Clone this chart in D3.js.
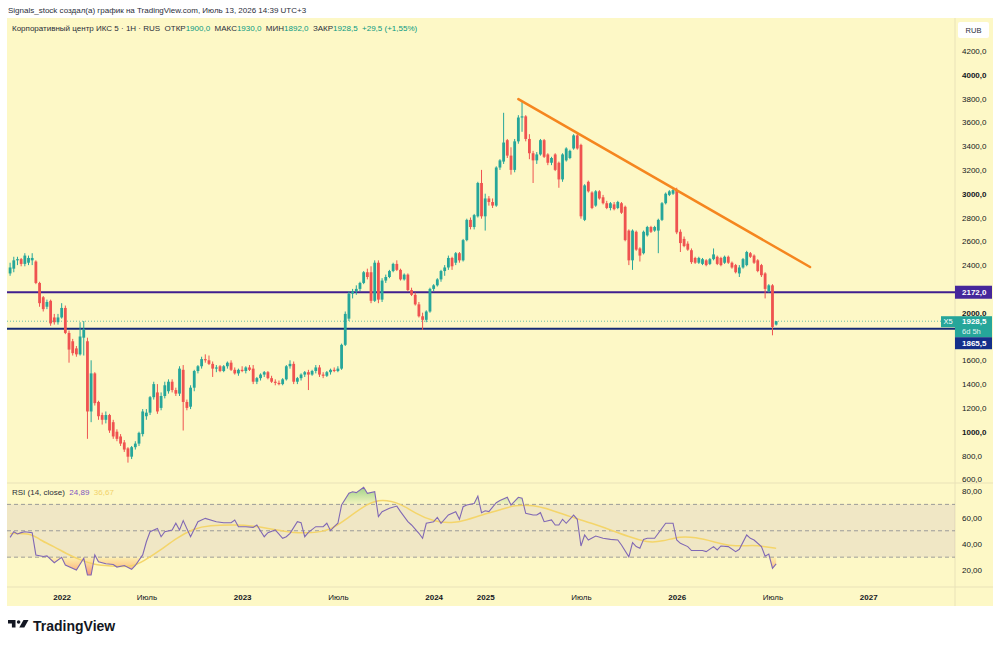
<!DOCTYPE html>
<html>
<head>
<meta charset="utf-8">
<script src="https://cdn.jsdelivr.net/npm/d3@7/dist/d3.min.js"></script>
<style>
body{margin:0;background:#fff;}
svg{display:block;font-family:"Liberation Sans",Arial,sans-serif;}
</style>
</head>
<body>
<svg id="chart" width="1000" height="646"></svg>
<script>
// weekly candles: [open, high, low, close]
var ohlc = [
[2330,2420,2310,2380],[2370,2470,2340,2440],[2440,2470,2400,2450],[2450,2460,2390,2410],[2410,2500,2390,2480],
[2420,2480,2400,2460],[2440,2500,2400,2460],[2430,2440,2240,2250],[2250,2260,2050,2080],[2130,2140,2010,2030],
[2050,2110,2030,2090],[2100,2110,1890,1910],[1960,1990,1900,1920],[1920,1990,1900,1960],[1960,2080,1950,2040],
[2040,2060,1820,1830],[1830,1850,1580,1690],[1760,1780,1640,1660],[1700,1720,1630,1650],[1650,1920,1640,1800],
[1790,1930,1640,1860],[1760,1790,940,1170],[1170,1600,1080,1490],[1490,1500,1220,1240],[1250,1260,1100,1130],
[1140,1160,1060,1100],[1100,1170,1070,1140],[1140,1150,990,1010],[1080,1100,940,960],[1000,1020,920,940],
[960,980,880,900],[910,930,830,850],[860,870,740,790],[790,880,770,870],[870,920,850,900],
[900,1000,880,990],[980,1190,960,1170],[1130,1190,1100,1160],[1160,1300,1140,1290],[1290,1420,1270,1400],
[1330,1400,1150,1170],[1200,1330,1180,1300],[1300,1420,1280,1390],[1340,1440,1320,1420],[1420,1440,1330,1350],
[1350,1370,1300,1320],[1320,1550,1300,1530],[1520,1560,1010,1250],[1250,1270,1180,1200],[1210,1390,1190,1370],
[1370,1520,1340,1510],[1510,1560,1490,1550],[1550,1630,1530,1610],[1610,1650,1580,1600],[1600,1640,1560,1570],
[1570,1590,1460,1530],[1530,1560,1500,1540],[1550,1560,1500,1510],[1510,1560,1500,1550],[1550,1590,1530,1580],
[1580,1600,1510,1520],[1520,1540,1480,1490],[1490,1530,1470,1520],[1520,1550,1500,1510],[1510,1550,1490,1540],
[1540,1560,1510,1520],[1530,1560,1400,1420],[1420,1460,1400,1450],[1450,1490,1430,1480],[1480,1510,1460,1500],
[1500,1510,1440,1450],[1450,1470,1410,1420],[1420,1440,1390,1410],[1410,1430,1390,1400],[1400,1450,1390,1440],
[1440,1560,1430,1550],[1550,1600,1530,1570],[1570,1590,1400,1420],[1420,1460,1400,1450],[1450,1490,1430,1480],
[1480,1510,1460,1500],[1500,1520,1350,1480],[1480,1520,1470,1510],[1510,1560,1490,1540],[1540,1560,1460,1480],
[1480,1500,1450,1470],[1470,1510,1460,1500],[1500,1530,1480,1520],[1520,1540,1500,1510],[1510,1550,1500,1530],
[1530,1740,1520,1730],[1730,2010,1720,1990],[1950,2180,1930,2160],[2160,2200,2120,2180],[2180,2230,2150,2200],
[2200,2260,2180,2250],[2250,2350,2240,2340],[2340,2370,2280,2300],[2340,2390,2080,2100],[2100,2440,2090,2420],
[2420,2440,2080,2110],[2110,2290,2090,2270],[2270,2320,2250,2300],[2300,2360,2290,2350],[2350,2420,2340,2410],
[2410,2440,2350,2360],[2360,2370,2270,2280],[2280,2330,2270,2320],[2320,2330,2180,2190],[2190,2210,2140,2150],
[2150,2170,2060,2070],[2070,2090,1960,1970],[1970,2000,1855,1940],[1940,2020,1920,2010],[2010,2210,2000,2200],
[2200,2240,2180,2230],[2230,2290,2220,2280],[2280,2360,2260,2350],[2350,2400,2310,2380],[2380,2480,2360,2460],
[2460,2470,2360,2390],[2420,2510,2400,2500],[2500,2510,2420,2440],[2440,2620,2430,2610],[2610,2790,2600,2780],
[2780,2800,2700,2720],[2720,2830,2700,2820],[2810,3100,2800,3090],[3090,3200,2790,2810],[2810,3000,2690,2960],
[2960,2980,2900,2930],[2930,2960,2880,2900],[2900,3230,2890,3220],[3220,3290,3200,3280],[3270,3680,3250,3430],
[3450,3460,3300,3320],[3320,3390,3160,3200],[3200,3460,3180,3440],[3440,3660,3420,3640],[3640,3770,3520,3650],
[3650,3660,3440,3460],[3460,3500,3290,3340],[3340,3360,3090,3280],[3280,3350,3250,3330],[3330,3460,3320,3450],
[3450,3460,3300,3310],[3330,3340,3240,3260],[3260,3310,3240,3300],[3330,3340,3190,3200],[3260,3270,3050,3120],
[3120,3340,3100,3330],[3280,3390,3270,3380],[3300,3370,3290,3360],[3380,3500,3370,3490],[3490,3510,3370,3380],
[3410,3420,2790,2810],[2780,3080,2770,3070],[3100,3110,3010,3020],[3010,3020,2870,2880],[2900,3030,2890,3020],
[3020,3030,2950,2960],[2970,2990,2910,2920],[2920,2940,2870,2880],[2880,2930,2860,2920],[2910,2930,2860,2870],
[2880,2940,2870,2930],[2920,2930,2830,2840],[2890,2900,2600,2610],[2690,2700,2400,2440],[2440,2700,2360,2690],
[2680,2690,2520,2530],[2540,2550,2430,2480],[2500,2690,2490,2680],[2650,2730,2640,2720],[2720,2730,2670,2680],
[2690,2730,2680,2720],[2690,2790,2500,2780],[2780,2930,2770,2920],[2920,3010,2910,3000],[2990,3030,2980,3020],
[3000,3040,2990,3030],[3030,3050,2660,2675],[2680,2700,2510,2585],[2620,2640,2550,2560],[2580,2600,2520,2530],
[2525,2540,2410,2425],[2460,2470,2410,2420],[2420,2470,2410,2460],[2410,2460,2400,2450],[2440,2450,2390,2400],
[2410,2460,2400,2450],[2450,2540,2440,2490],[2470,2480,2400,2410],[2460,2470,2390,2400],[2420,2480,2410,2470],
[2470,2480,2410,2420],[2420,2430,2370,2380],[2400,2410,2330,2340],[2330,2400,2300,2380],[2380,2460,2370,2450],
[2400,2520,2390,2510],[2500,2510,2460,2470],[2480,2490,2410,2420],[2440,2450,2340,2350],[2400,2410,2300,2315],
[2330,2340,2120,2200],[2180,2240,2170,2230],[2230,2240,1810,1880],[1900,1930,1892,1928.5]
];

// RSI(14) readings: [bar, value]
var rsiSeries = [
[0,45],[1,49.3],[2,47.6],[3,48.6],[4,49.3],[6,48.6],[7,31.7],[9,30.5],[10,31],[12,25.8],[14,29.9],[15,24.1],
[18,20.3],[20,29.2],[21,16.5],[22,16.5],[23,31.7],[24,26.6],[26,25],[28,24.5],[29,22.5],[31,23.7],[33,20.8],
[34,23.7],[36,31.7],[37,41.7],[38,49.3],[40,51.8],[41,45.5],[42,49.3],[44,50.6],[45,55.7],[46,50.6],[47,57.7],
[49,45.5],[51,56.9],[53,59.4],[56,56.9],[58,56.1],[60,56.1],[61,58.2],[62,53.1],[64,53.1],[66,52.6],[67,54.4],
[69,45.5],[70,48.6],[72,50.6],[74,44.3],[75,45.5],[76,48.1],[78,56.9],[79,56.1],[80,45.5],[81,48.8],[83,53.1],
[85,53.1],[86,55.7],[87,50.1],[88,53.1],[89,55.7],[90,69.5],[92,78.4],[93,79.6],[94,78.9],[96,83],[97,78.4],
[99,79.6],[100,60.7],[101,64.5],[103,67],[105,68.7],[106,64.5],[108,56.9],[109,54.4],[111,48.1],[112,44.3],
[113,55.7],[115,56.9],[116,60.2],[117,55.7],[119,62],[121,64.5],[122,58.7],[123,68.2],[124,69.5],[126,70.7],
[127,76.3],[128,63.7],[129,65.2],[130,64.5],[132,71.3],[133,72.9],[135,75.4],[136,69.5],[138,75.4],[139,74.7],
[140,63.2],[142,61.9],[143,61.9],[144,63.7],[145,56.9],[147,58.2],[148,54.4],[149,54.4],[150,58.7],[151,55.7],
[153,61.9],[154,58.7],[155,38.5],[156,46.8],[157,43],[159,46],[161,44.3],[163,43.5],[165,43],[166,39.2],
[168,30.3],[169,41],[170,38],[171,36.7],[172,43.5],[173,44.3],[175,44.3],[176,48.1],[178,55.7],[180,55.7],
[181,43],[182,40.5],[184,38],[185,35],[188,35],[189,34.2],[191,38],[192,35.5],[193,38.5],[195,38],[197,34.2],
[198,36],[200,46.8],[201,44.3],[202,43],[204,38],[205,30.8],[206,32.3],[207,21.6],[208,24.89]
];

// RSI moving average readings: [bar, value]
var rsiMaSeries = [
[0,48],[6,48.1],[8,43],[12,38],[15,33],[19,27.9],[23,24.1],[27,23.4],[33,22.4],[36,26.6],[41,35.5],[45,44.3],
[50,51.9],[54,54.1],[61,54.6],[66,53.8],[72,50.8],[76,48.6],[82,48.1],[87,50.6],[91,58.2],[97,70.8],[101,73.9],
[106,70.8],[110,63.2],[115,56.9],[120,55.7],[124,58.2],[128,62],[133,65.8],[137,69.5],[142,69.5],[147,65.8],
[152,60.7],[158,55.7],[163,50.6],[168,45.5],[173,41],[177,41.8],[182,46],[186,45],[191,41.8],[196,38],
[202,39.2],[205,38],[208,36.67]
];

var timeTickBars = [14,37,63,89,115,129,155,181,207,233];
var timeTickLabels = ["2022","Июль","2023","Июль","2024","2025","Июль","2026","Июль","2027"];
var priceTicks = d3.range(600, 4201, 200);
var rsiTicks = [20,40,60,80];
var rsiLevels = [70,50,30];
var priceLevels = [2172, 1865.5];
var trendLine = [[138,3795],[217.2,2384]];
var lastPrice = 1928.5;
var lastRsi = 24.89, lastRsiMa = 36.67;

var frameL = 7, frameR = 993, axisX = 955, frameT = 18, mainBottom = 483, rsiBottom = 587, frameB = 606;

var x = d3.scaleLinear().domain([0, 208]).range([10.1, 10.1 + 208*3.683]);
var y = d3.scaleLinear().domain([568.9, 4476.5]).range([mainBottom, frameT]);
var yr = d3.scaleLinear().domain([7.4, 86.2]).range([rsiBottom, mainBottom]);

var up = "#26a69a", down = "#ef5350";
var fmt1 = function(v){ return d3.format(".1f")(v).replace(".", ","); };
var fmt2 = function(v){ return d3.format(".2f")(v).replace(".", ","); };

var svg = d3.select("#chart");
var defs = svg.append("defs");

defs.append("clipPath").attr("id","clipMain").append("rect")
	.attr("x",frameL).attr("y",frameT).attr("width",axisX-frameL).attr("height",mainBottom-frameT);
defs.append("clipPath").attr("id","clipRsi").append("rect")
	.attr("x",frameL).attr("y",mainBottom).attr("width",axisX-frameL).attr("height",rsiBottom-mainBottom);
defs.append("clipPath").attr("id","clipOb").append("rect")
	.attr("x",frameL).attr("y",mainBottom).attr("width",axisX-frameL).attr("height",yr(70)-mainBottom);
defs.append("clipPath").attr("id","clipOs").append("rect")
	.attr("x",frameL).attr("y",yr(30)).attr("width",axisX-frameL).attr("height",rsiBottom-yr(30));

var gOb = defs.append("linearGradient").attr("id","gradOb").attr("gradientUnits","userSpaceOnUse")
	.attr("x1",0).attr("x2",0).attr("y1",yr(70)).attr("y2",yr(85));
gOb.append("stop").attr("offset",0).attr("stop-color","#4caf50").attr("stop-opacity",0.05);
gOb.append("stop").attr("offset",1).attr("stop-color","#4caf50").attr("stop-opacity",0.6);
var gOs = defs.append("linearGradient").attr("id","gradOs").attr("gradientUnits","userSpaceOnUse")
	.attr("x1",0).attr("x2",0).attr("y1",yr(30)).attr("y2",yr(15));
gOs.append("stop").attr("offset",0).attr("stop-color","#ff9800").attr("stop-opacity",0.1);
gOs.append("stop").attr("offset",1).attr("stop-color","#f23645").attr("stop-opacity",0.6);

// header line on white
svg.append("text").attr("x",8).attr("y",13)
	.attr("font-size","8px").attr("fill","#2a2e39")
	.text("Signals_stock создал(а) график на TradingView.com, Июль 13, 2026 14:39 UTC+3");

// chart background
svg.append("rect").attr("x",frameL).attr("y",frameT).attr("width",frameR-frameL).attr("height",frameB-frameT).attr("fill","#fdf8c6");

// pane separators
svg.append("line").attr("x1",frameL).attr("x2",frameR).attr("y1",mainBottom).attr("y2",mainBottom).attr("stroke","#e9e2b8");
svg.append("line").attr("x1",frameL).attr("x2",frameR).attr("y1",rsiBottom).attr("y2",rsiBottom).attr("stroke","#e9e2b8");
svg.append("line").attr("x1",axisX).attr("x2",axisX).attr("y1",frameT).attr("y2",frameB).attr("stroke","#e9e2b8");

// main pane
var main = svg.append("g").attr("clip-path","url(#clipMain)");

main.append("line")
	.attr("x1",frameL).attr("x2",axisX-14)
	.attr("y1",y(lastPrice)).attr("y2",y(lastPrice))
	.attr("stroke",up).attr("stroke-opacity",0.7).attr("stroke-dasharray","1,2");

main.selectAll(".level").data(priceLevels).enter().append("line")
	.attr("class","level")
	.attr("x1",frameL).attr("x2",axisX)
	.attr("y1",function(d){ return y(d); }).attr("y2",function(d){ return y(d); })
	.attr("stroke",function(d,i){ return i==0 ? "#3f1f8f" : "#142a75"; })
	.attr("stroke-width",2);

var candle = main.selectAll(".candle").data(ohlc).enter().append("g").attr("class","candle")
	.attr("fill",function(d){ return d[3] >= d[0] ? up : down; })
	.attr("stroke",function(d){ return d[3] >= d[0] ? up : down; });
candle.append("line")
	.attr("x1",function(d,i){ return x(i); }).attr("x2",function(d,i){ return x(i); })
	.attr("y1",function(d){ return y(d[1]); }).attr("y2",function(d){ return y(d[2]); })
	.attr("stroke-width",1);
candle.append("rect")
	.attr("stroke","none")
	.attr("x",function(d,i){ return x(i)-1.4; })
	.attr("width",2.8)
	.attr("y",function(d){ return y(Math.max(d[0],d[3])); })
	.attr("height",function(d){ return Math.max(1, Math.abs(y(d[0])-y(d[3]))); });

main.append("line")
	.attr("x1",x(trendLine[0][0])).attr("y1",y(trendLine[0][1]))
	.attr("x2",x(trendLine[1][0])).attr("y2",y(trendLine[1][1]))
	.attr("stroke","#f5861f").attr("stroke-width",2.5).attr("stroke-linecap","round");

// legend
var legend = svg.append("text").attr("x",12).attr("y",31).attr("font-size","8px").attr("fill","#2a2e39").attr("xml:space","preserve");
legend.append("tspan").text("Корпоративный центр ИКС 5 · 1H · RUS  ОТКР");
legend.append("tspan").attr("fill","#089981").text(fmt1(ohlc[208][0]));
legend.append("tspan").text("  МАКС");
legend.append("tspan").attr("fill","#089981").text(fmt1(ohlc[208][1]));
legend.append("tspan").text("  МИН");
legend.append("tspan").attr("fill","#089981").text(fmt1(ohlc[208][2]));
legend.append("tspan").text("  ЗАКР");
legend.append("tspan").attr("fill","#089981").text(fmt1(ohlc[208][3]) + "  +29,5 (+1,55%)");

// price axis; labels hidden behind the price boxes are skipped like the original
var ly = y(lastPrice);
var yAxis = svg.append("g").attr("transform","translate(" + (axisX+7) + ",0)")
	.call(d3.axisRight(y).tickValues(priceTicks).tickSize(0).tickPadding(0).tickFormat(fmt1));
yAxis.select(".domain").remove();
yAxis.selectAll(".tick").filter(function(d){ return y(d) > ly - 6 && y(d) < ly + 30; }).remove();
yAxis.selectAll("text").attr("font-size","8px").attr("fill","#131722")
	.attr("font-family","Liberation Sans, Arial, sans-serif")
	.attr("font-weight",function(d){ return d % 1000 == 0 ? "bold" : "normal"; });

// RUB box
svg.append("rect").attr("x",958).attr("y",22).attr("width",31).attr("height",16).attr("rx",2).attr("fill","#fff");
svg.append("text").attr("x",973.5).attr("y",33).attr("text-anchor","middle").attr("font-size","7.5px").attr("fill","#2a2e39").text("RUB");

// level labels
svg.append("rect").attr("x",axisX).attr("y",y(priceLevels[0])-6.5).attr("width",37).attr("height",13).attr("fill","#45279b");
svg.append("text").attr("x",axisX+7).attr("y",y(priceLevels[0])+3).attr("font-size","8px").attr("font-weight","bold").attr("fill","#fff").text(fmt1(priceLevels[0]));

svg.append("rect").attr("x",axisX).attr("y",ly-5).attr("width",37).attr("height",21).attr("fill",up);
svg.append("text").attr("x",axisX+7).attr("y",ly+3).attr("font-size","8px").attr("font-weight","bold").attr("fill","#fff").text(fmt1(lastPrice));
svg.append("text").attr("x",axisX+7).attr("y",ly+13).attr("font-size","7.5px").attr("fill","#e0f5f1").text("6d 5h");
svg.append("rect").attr("x",axisX-14).attr("y",ly-5).attr("width",14).attr("height",11).attr("fill",up);
svg.append("text").attr("x",axisX-7).attr("y",ly+3).attr("text-anchor","middle").attr("font-size","7.5px").attr("fill","#fff").text("X5");

svg.append("rect").attr("x",axisX).attr("y",ly+16).attr("width",37).attr("height",12).attr("fill","#142f8a");
svg.append("text").attr("x",axisX+7).attr("y",ly+25).attr("font-size","8px").attr("font-weight","bold").attr("fill","#fff").text(fmt1(priceLevels[1]));

// RSI pane
var rsiG = svg.append("g").attr("clip-path","url(#clipRsi)");
rsiG.append("rect").attr("x",frameL).attr("width",axisX-frameL)
	.attr("y",yr(70)).attr("height",yr(30)-yr(70))
	.attr("fill","#7e57c2").attr("fill-opacity",0.1);
rsiG.selectAll(".lvl").data(rsiLevels).enter().append("line").attr("class","lvl")
	.attr("x1",frameL).attr("x2",axisX)
	.attr("y1",function(d){ return yr(d); }).attr("y2",function(d){ return yr(d); })
	.attr("stroke","#787b86").attr("stroke-opacity",0.7).attr("stroke-dasharray","4,3");

rsiG.append("path").datum(rsiSeries).attr("clip-path","url(#clipOb)")
	.attr("fill","url(#gradOb)")
	.attr("d", d3.area().x(function(d){ return x(d[0]); }).y0(yr(70)).y1(function(d){ return yr(d[1]); }));
rsiG.append("path").datum(rsiSeries).attr("clip-path","url(#clipOs)")
	.attr("fill","url(#gradOs)")
	.attr("d", d3.area().x(function(d){ return x(d[0]); }).y0(yr(30)).y1(function(d){ return yr(d[1]); }));

rsiG.append("path").datum(rsiMaSeries)
	.attr("fill","none").attr("stroke","#f4d56a").attr("stroke-width",1.5)
	.attr("d", d3.line().curve(d3.curveBasis).x(function(d){ return x(d[0]); }).y(function(d){ return yr(d[1]); }));
rsiG.append("path").datum(rsiSeries)
	.attr("fill","none").attr("stroke","#8068b4").attr("stroke-width",1.1)
	.attr("d", d3.line().x(function(d){ return x(d[0]); }).y(function(d){ return yr(d[1]); }));

var rl = svg.append("text").attr("x",12).attr("y",495).attr("font-size","8px").attr("fill","#2a2e39").attr("xml:space","preserve");
rl.append("tspan").text("RSI (14, close)  ");
rl.append("tspan").attr("fill","#7e57c2").text(fmt2(lastRsi));
rl.append("tspan").attr("fill","#f2d36b").text("  " + fmt2(lastRsiMa));

var rAxis = svg.append("g").attr("transform","translate(" + (axisX+7) + ",0)")
	.call(d3.axisRight(yr).tickValues(rsiTicks).tickSize(0).tickPadding(0).tickFormat(fmt2));
rAxis.select(".domain").remove();
rAxis.selectAll("text").attr("font-size","8px").attr("fill","#131722").attr("font-family","Liberation Sans, Arial, sans-serif");

// time axis
var xAxis = svg.append("g").attr("transform","translate(0," + rsiBottom + ")")
	.call(d3.axisBottom(x).tickValues(timeTickBars).tickSize(0).tickPadding(7)
		.tickFormat(function(d,i){ return timeTickLabels[i]; }));
xAxis.select(".domain").remove();
xAxis.selectAll("text").attr("font-size","8px").attr("fill","#131722")
	.attr("font-family","Liberation Sans, Arial, sans-serif")
	.attr("font-weight",function(d,i){ return timeTickLabels[i] == "Июль" ? "normal" : "bold"; });

// TradingView logo
var logo = svg.append("g").attr("fill","#131722");
logo.append("path").attr("d","M8,620 h7.5 v7.5 h-3.6 v-4 h-3.9 z");
logo.append("circle").attr("cx",18.6).attr("cy",622).attr("r",1.8);
logo.append("path").attr("d","M23.5,620 h5 l-4.2,7.5 h-5 z");
svg.append("text").attr("x",33).attr("y",631).attr("font-size","14px").attr("font-weight","bold")
	.attr("fill","#131722").text("TradingView");
</script>
</body>
</html>
